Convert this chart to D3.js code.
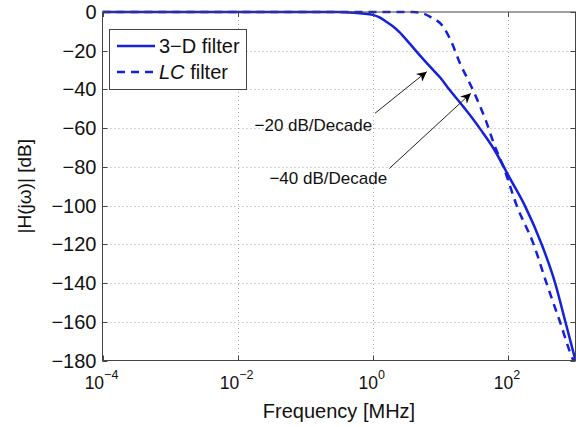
<!DOCTYPE html>
<html>
<head>
<meta charset="utf-8">
<script src="https://cdn.jsdelivr.net/npm/d3@7"></script>
<style>
  body { margin: 0; background: #fff; }
  text { font-family: "Liberation Sans", Arial, Helvetica, sans-serif; fill: #111; }
</style>
</head>
<body>
<div id="chart"></div>
<script>
// 3-D filter (solid): frequency [MHz], magnitude [dB]
const freq3D = [1e-4, 1e-3, 1e-2, 0.1, 0.3, 0.46, 0.7, 1.0, 1.26, 1.58, 2.0, 2.5, 3.55, 5, 7.08, 10, 12.6, 22, 30, 39, 60, 87, 100, 178, 316, 500, 708, 1000];
const db3D   = [0, 0, 0, 0, 0, -0.3, -0.8, -1.5, -2.8, -5, -7.5, -10.5, -16.5, -22.5, -28.3, -34, -38.6, -49, -55, -60.5, -70, -80, -84, -100, -120, -140, -160, -180];

// LC filter (dashed)
const freqLC = [1e-4, 1e-3, 1e-2, 0.1, 1, 3, 4, 5.6, 7, 11, 14.8, 19.5, 25.7, 32, 39, 47, 62, 87, 135, 240, 372, 589, 933, 1000];
const dbLC   = [0, 0, 0, 0, 0, 0, 0, -0.8, -2.4, -7.6, -16, -26.5, -35, -42, -49, -56, -68, -80.6, -100, -120, -140, -160, -180, -182];

// axis ticks
const xTicks = [1e-4, 1e-2, 1, 1e2];
const xTickExp = ["\u22124", "\u22122", "0", "2"];
const yTicks = [0, -20, -40, -60, -80, -100, -120, -140, -160, -180];

// annotations in data units: text end point, arrow start, arrow tip
const notes = [
    { label: "\u221220 dB/Decade", tf: 0.98, tdb: -61.5, f0: 1.08, db0: -52.3, f1: 6.3, db1: -30.8 },
    { label: "\u221240 dB/Decade", tf: 1.63, tdb: -88.9, f0: 1.76, db0: -80.8, f1: 28.3, db1: -42 }
];

const W = 576, H = 427;
const pLeft = 102.5, pRight = 575.5, pTop = 12, pBottom = 360.5;
const blue = "#1420dc";

const svg = d3.select("#chart").append("svg")
    .attr("width", W).attr("height", H);

const x = d3.scaleLog().domain([1e-4, 1e3]).range([pLeft, pRight]);
const y = d3.scaleLinear().domain([-180, 0]).range([pBottom, pTop]);

// grid
const grid = svg.append("g")
    .attr("stroke", "#aaa").attr("stroke-width", 1).attr("stroke-dasharray", "1,3");
grid.selectAll(".gx").data(xTicks.slice(1)).enter().append("line")
    .attr("x1", d => Math.round(x(d)) + 0.5).attr("x2", d => Math.round(x(d)) + 0.5)
    .attr("y1", pTop).attr("y2", pBottom);
grid.selectAll(".gy").data(yTicks.slice(1, -1)).enter().append("line")
    .attr("y1", d => Math.round(y(d)) + 0.5).attr("y2", d => Math.round(y(d)) + 0.5)
    .attr("x1", pLeft).attr("x2", pRight);

// curves
svg.append("clipPath").attr("id", "clip").append("rect")
    .attr("x", pLeft).attr("y", pTop - 2).attr("width", pRight - pLeft).attr("height", pBottom - pTop + 2);

const line = d3.line()
    .x(d => x(d[0]))
    .y(d => y(d[1]))
    .curve(d3.curveMonotoneX);

const plot = svg.append("g").attr("clip-path", "url(#clip)");
plot.append("path")
    .datum(d3.zip(freqLC, dbLC))
    .attr("d", line)
    .attr("fill", "none").attr("stroke", blue).attr("stroke-width", 2.5)
    .attr("stroke-dasharray", "8,6");
plot.append("path")
    .datum(d3.zip(freq3D, db3D))
    .attr("d", line)
    .attr("fill", "none").attr("stroke", blue).attr("stroke-width", 2.5);

// axes box and inward ticks
const axisColor = "#444";
svg.append("rect")
    .attr("x", pLeft).attr("y", pTop).attr("width", pRight - pLeft).attr("height", pBottom - pTop)
    .attr("fill", "none").attr("stroke", axisColor).attr("stroke-width", 1);

const tk = 5;
const ticks = svg.append("g").attr("stroke", axisColor);
xTicks.forEach(d => {
    const px = Math.round(x(d)) + 0.5;
    ticks.append("line").attr("x1", px).attr("x2", px).attr("y1", pBottom).attr("y2", pBottom - tk);
    ticks.append("line").attr("x1", px).attr("x2", px).attr("y1", pTop).attr("y2", pTop + tk);
});
yTicks.forEach(d => {
    const py = Math.round(y(d)) + 0.5;
    ticks.append("line").attr("x1", pLeft).attr("x2", pLeft + tk).attr("y1", py).attr("y2", py);
    ticks.append("line").attr("x1", pRight).attr("x2", pRight - tk).attr("y1", py).attr("y2", py);
});

// y tick labels
svg.selectAll(".ylab").data(yTicks).enter().append("text")
    .attr("x", pLeft - 6)
    .attr("y", d => y(d) + 7)
    .attr("text-anchor", "end")
    .style("font-size", "20px")
    .text(d => d === 0 ? "0" : "\u2212" + Math.abs(d));

// x tick labels: 10 with superscript exponent
xTicks.forEach((d, i) => {
    const t = svg.append("text")
        .attr("x", x(d) - 1)
        .attr("y", 389)
        .attr("text-anchor", "middle")
        .style("font-size", "17.5px");
    t.append("tspan").text("10");
    t.append("tspan").attr("dy", -10).style("font-size", "12.5px").text(xTickExp[i]);
});

// axis labels
svg.append("text")
    .attr("x", (pLeft + pRight) / 2)
    .attr("y", 418)
    .attr("text-anchor", "middle")
    .style("font-size", "20px")
    .text("Frequency [MHz]");

svg.append("text")
    .attr("transform", `translate(31,${(pTop + pBottom) / 2}) rotate(-90)`)
    .attr("text-anchor", "middle")
    .style("font-size", "19px")
    .text("|H(j\u03c9)| [dB]");

// legend
const lg = svg.append("g");
lg.append("rect")
    .attr("x", 109.5).attr("y", 29.5).attr("width", 137).attr("height", 60)
    .attr("fill", "#fff").attr("stroke", axisColor);
lg.append("line")
    .attr("x1", 117).attr("x2", 155).attr("y1", 46).attr("y2", 46)
    .attr("stroke", blue).attr("stroke-width", 2.5);
lg.append("line")
    .attr("x1", 117).attr("x2", 155).attr("y1", 72).attr("y2", 72)
    .attr("stroke", blue).attr("stroke-width", 2.5).attr("stroke-dasharray", "8,6");
lg.append("text").attr("x", 159).attr("y", 53).style("font-size", "20px").text("3\u2212D filter");
const lc = lg.append("text").attr("x", 159).attr("y", 79).style("font-size", "20px");
lc.append("tspan").style("font-style", "italic").text("LC");
lc.append("tspan").text(" filter");

// arrow annotations
svg.append("defs").append("marker")
    .attr("id", "head")
    .attr("viewBox", "0 0 10 10")
    .attr("refX", 10).attr("refY", 5)
    .attr("markerWidth", 14).attr("markerHeight", 10)
    .attr("markerUnits", "userSpaceOnUse")
    .attr("orient", "auto")
    .append("path").attr("d", "M0,0 L10,5 L0,10 L3,5 Z").attr("fill", "#000");

notes.forEach(n => {
    svg.append("line")
        .attr("x1", x(n.f0)).attr("y1", y(n.db0))
        .attr("x2", x(n.f1)).attr("y2", y(n.db1))
        .attr("stroke", "#222").attr("stroke-width", 1)
        .attr("marker-end", "url(#head)");
    svg.append("text")
        .attr("x", x(n.tf)).attr("y", y(n.tdb))
        .attr("text-anchor", "end")
        .style("font-size", "17px")
        .text(n.label);
});
</script>
</body>
</html>
